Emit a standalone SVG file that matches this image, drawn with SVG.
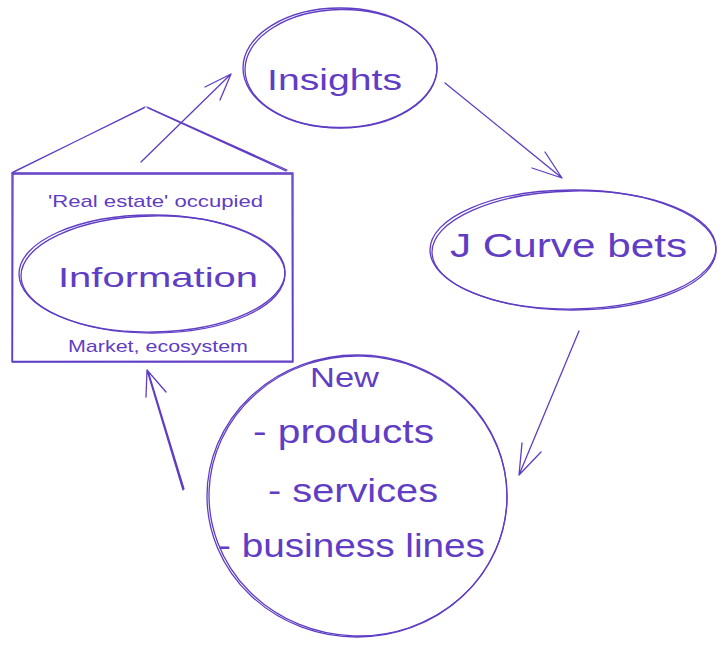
<svg xmlns="http://www.w3.org/2000/svg" width="726" height="648" viewBox="0 0 726 648">
<style>
.s{fill:none;stroke:#5f3dc4;stroke-width:1.3;stroke-linecap:round;stroke-linejoin:round}
.t{fill:#5f3dc4;font-family:"Liberation Sans","DejaVu Sans",sans-serif}
</style>
<rect width="726" height="648" fill="#ffffff"/>
<g id="insights">
<ellipse class="s" cx="340" cy="68" rx="97" ry="60"/>
<ellipse class="s" cx="341" cy="68.5" rx="96" ry="59" transform="rotate(-1 341 68)"/>
<text class="t" x="267" y="90" font-size="30" textLength="135" lengthAdjust="spacingAndGlyphs">Insights</text>
</g>
<g id="jcurve">
<ellipse class="s" cx="573" cy="250" rx="143" ry="60"/>
<ellipse class="s" cx="574" cy="250" rx="142" ry="59" transform="rotate(-1 574 250)"/>
<text class="t" x="450" y="257" font-size="34" textLength="237" lengthAdjust="spacingAndGlyphs">J Curve bets</text>
</g>
<g id="new">
<ellipse class="s" cx="357" cy="496" rx="150" ry="141"/>
<ellipse class="s" cx="358" cy="496" rx="149" ry="140" transform="rotate(2 358 496)"/>
<text class="t" x="310" y="387" font-size="28" textLength="69" lengthAdjust="spacingAndGlyphs">New</text>
<text class="t" x="253" y="443" font-size="33" textLength="181" lengthAdjust="spacingAndGlyphs">- products</text>
<text class="t" x="268" y="502" font-size="33" textLength="170" lengthAdjust="spacingAndGlyphs">- services</text>
<text class="t" x="218" y="557" font-size="33" textLength="267" lengthAdjust="spacingAndGlyphs">- business lines</text>
</g>
<g id="information">
<path class="s" d="M12 173 L293 173 L293 362 L12 362 Z"/>
<path class="s" d="M13 174 L292 174 L292.5 361 L12.5 361.5 Z"/>
<path class="s" d="M12 173 L145 107 M13 172 L144 108"/>
<path class="s" d="M147 107 L287 170 M148 108 L286 171"/>
<ellipse class="s" cx="152" cy="274" rx="133" ry="59"/>
<ellipse class="s" cx="153" cy="274" rx="132" ry="58" transform="rotate(-1 153 274)"/>
<text class="t" x="48" y="207" font-size="17" textLength="215" lengthAdjust="spacingAndGlyphs">'Real estate' occupied</text>
<text class="t" x="58" y="287" font-size="28" textLength="200" lengthAdjust="spacingAndGlyphs">Information</text>
<text class="t" x="68" y="352" font-size="17" textLength="180" lengthAdjust="spacingAndGlyphs">Market, ecosystem</text>
</g>
<g id="connectors">
<path class="s" d="M141 162 L231 74 M205 87 L231 74 L220 100"/>
<path class="s" d="M445 83 L562 178 M532 168 L562 178 L545 152"/>
<path class="s" d="M579 331 L519 475 M522 443 L519 475 L541 452"/>
<path class="s" d="M183 490 L147 370 M184 489 L148 371 M146 397 L147 370 L166 392"/>
</g>
</svg>
